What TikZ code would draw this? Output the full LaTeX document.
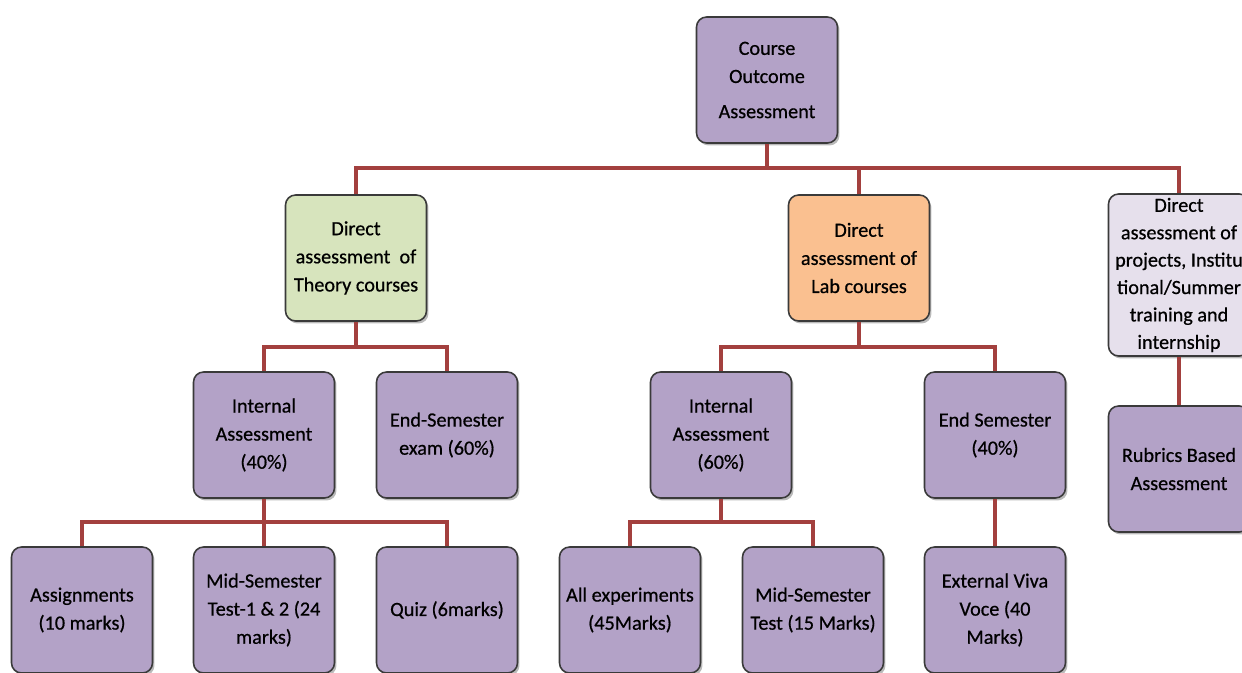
\documentclass[tikz,border=0pt]{standalone}
\usepackage{fontspec}
\setmainfont{Carlito}[FakeBold=0.6]
\usetikzlibrary{shadows}
\definecolor{coaPurple}{HTML}{B3A2C7}
\definecolor{coaGreen}{HTML}{D7E4BD}
\definecolor{coaOrange}{HTML}{FAC090}
\definecolor{coaLilac}{HTML}{E6E0EC}
\definecolor{coaLink}{HTML}{A3403E}
\definecolor{coaEdge}{HTML}{3A3A3A}

\begin{document}
\begin{tikzpicture}[x=0.02cm,y=-0.02cm,font=\fontsize{11.5}{16}\selectfont,
  box/.style={draw=coaEdge,line width=0.9pt,rounded corners=0.2cm,fill=coaPurple,
    align=center,minimum width=2.82cm,minimum height=2.52cm,inner sep=1pt,
    drop shadow={shadow xshift=0.04cm,shadow yshift=-0.05cm,fill=black!45,opacity=0.6}},
  link/.style={coaLink,line width=2.3pt}]
  \useasboundingbox (0,0) rectangle (1242,673);
  \node[box] (root) at (767,80) {Course\\Outcome\\[4pt]Assessment};
  \node[box,fill=coaGreen] (theory) at (356,258) {Direct\\assessment\ \ of\\Theory courses};
  \node[box,fill=coaOrange] (lab) at (859,258) {Direct\\assessment of\\Lab courses};
  \node[box,fill=coaLilac,minimum height=3.24cm,inner sep=0pt,font=\fontsize{11.5}{15.6}\selectfont] (proj) at (1179,275) {Direct\\assessment of\\projects, Institu\\tional/Summer\\training and\\internship};
  \node[box] (thint) at (264,435) {Internal\\Assessment\\(40\%)};
  \node[box] (thend) at (447,435) {End-Semester\\exam (60\%)};
  \node[box] (labint) at (721,435) {Internal\\Assessment\\(60\%)};
  \node[box] (labend) at (995,435) {End Semester\\(40\%)};
  \node[box] (rubric) at (1179,469) {Rubrics Based\\Assessment};
  \node[box] (assign) at (82,610) {Assignments\\(10 marks)};
  \node[box] (midsem) at (264,610) {Mid-Semester\\Test-1 \& 2 (24\\marks)};
  \node[box] (quiz) at (447,610) {Quiz (6marks)};
  \node[box] (exper) at (630,610) {All experiments\\(45Marks)};
  \node[box] (labmid) at (813,610) {Mid-Semester\\Test (15 Marks)};
  \node[box] (viva) at (995,610) {External Viva\\Voce (40\\Marks)};
  \coordinate (busA) at (767,168);
  \coordinate (busB) at (356,347);
  \coordinate (busC) at (859,347);
  \coordinate (busD) at (264,522);
  \coordinate (busE) at (721,522);
  \draw[link] (root.south) -- (busA);
  \draw[link] (theory.north) |- (busA) -| (proj.north);
  \draw[link] (lab.north) -- (lab.north |- busA);
  \draw[link] (theory.south) -- (busB);
  \draw[link] (thint.north) |- (busB) -| (thend.north);
  \draw[link] (lab.south) -- (busC);
  \draw[link] (labint.north) |- (busC) -| (labend.north);
  \draw[link] (proj.south) -- (rubric.north);
  \draw[link] (thint.south) -- (busD);
  \draw[link] (assign.north) |- (busD) -| (quiz.north);
  \draw[link] (midsem.north) -- (midsem.north |- busD);
  \draw[link] (labint.south) -- (busE);
  \draw[link] (exper.north) |- (busE) -| (labmid.north);
  \draw[link] (labend.south) -- (viva.north);
\end{tikzpicture}
\end{document}
